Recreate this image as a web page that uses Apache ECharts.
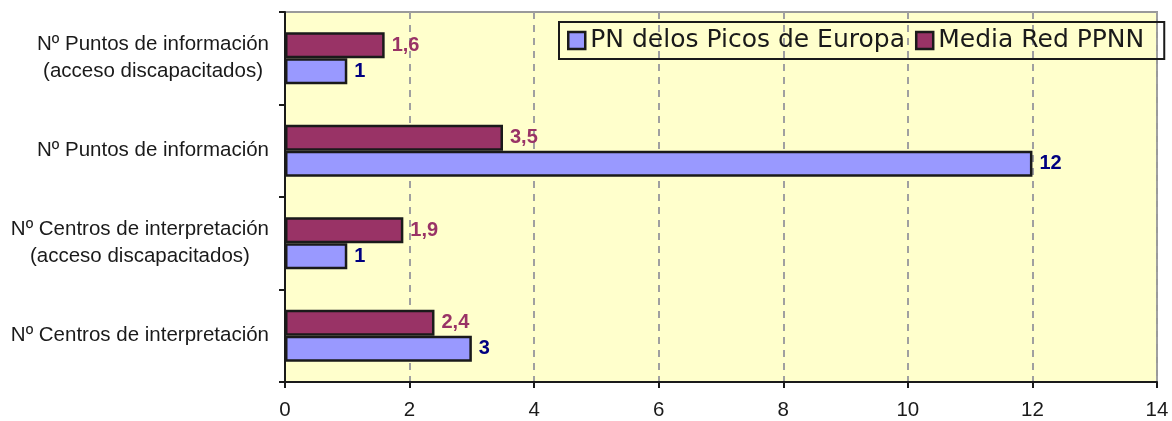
<!DOCTYPE html>
<html>
<head>
<meta charset="utf-8">
<script src="https://cdn.jsdelivr.net/npm/echarts@6/dist/echarts.min.js"></script>
<style>html,body{margin:0;padding:0;background:#fff}#c{width:1172px;height:421px}</style>
</head>
<body>
<div id="c"></div>
<script>
const categories = [
  'Nº Centros de interpretación',
  'Nº Centros de interpretación\n(acceso discapacitados)',
  'Nº Puntos de información',
  'Nº Puntos de información\n(acceso discapacitados)'
];
const seriesNames = ['PN delos Picos de Europa', 'Media Red PPNN'];
const pnValues = [3, 1, 12, 1];
const mediaValues = [2.4, 1.9, 3.5, 1.6];
const xTicks = [0, 2, 4, 6, 8, 10, 12, 14];

const FONT = 'Liberation Sans, Arial, sans-serif';
const chart = echarts.init(document.getElementById('c'), null, {renderer: 'canvas'});
const fmt = p => String(p.value).replace('.', ',');

chart.setOption({
  animation: false,
  backgroundColor: '#ffffff',
  grid: {
    left: 285, right: 15, top: 12, bottom: 39,
    show: true, backgroundColor: '#FFFFCC', borderColor: '#9a9a9a', borderWidth: 2
  },
  legend: {
    data: seriesNames,
    left: 559, top: 22,
    orient: 'horizontal',
    padding: [6, 20, 6, 8],
    itemGap: 10,
    itemWidth: 17, itemHeight: 17,
    icon: 'rect',
    borderColor: '#1a1a1a', borderWidth: 2,
    backgroundColor: 'transparent',
    itemStyle: {borderColor: '#1a1a1a', borderWidth: 2.5},
    textStyle: {fontFamily: 'DejaVu Sans', fontSize: 25, color: '#1a1a1a'}
  },
  xAxis: {
    type: 'value',
    min: xTicks[0], max: xTicks[xTicks.length - 1], interval: 2,
    axisLine: {show: true, lineStyle: {color: '#1a1a1a', width: 2}},
    axisTick: {show: true, length: 6, lineStyle: {color: '#1a1a1a', width: 2}},
    axisLabel: {fontFamily: FONT, fontSize: 20.5, color: '#1a1a1a', margin: 18},
    splitLine: {show: true, lineStyle: {color: '#a0a0a0', width: 2, type: [7, 6]}}
  },
  yAxis: {
    type: 'category',
    data: categories,
    axisLine: {show: true, lineStyle: {color: '#1a1a1a', width: 2}},
    axisTick: {show: true, length: 6, lineStyle: {color: '#1a1a1a', width: 2}},
    axisLabel: {
      fontFamily: FONT, fontSize: 20.5, color: '#1a1a1a', margin: 16,
      align: 'right',
      formatter: v => v.split('\n').map(s => '{c|' + s + '}').join('\n'),
      rich: {c: {align: 'center', fontFamily: FONT, fontSize: 20.5, color: '#1a1a1a', lineHeight: 27}}
    },
    splitLine: {show: false}
  },
  series: [
    {
      name: seriesNames[1], type: 'bar', data: mediaValues,
      barWidth: 26, barGap: '0%',
      itemStyle: {color: '#993366', borderColor: '#1a1a1a', borderWidth: 2.5},
      label: {show: true, position: 'right', distance: 7, formatter: fmt,
        fontFamily: FONT, fontSize: 20, fontWeight: 'bold', color: '#993366'}
    },
    {
      name: seriesNames[0], type: 'bar', data: pnValues,
      barWidth: 26, barGap: '0%',
      itemStyle: {color: '#9999FF', borderColor: '#1a1a1a', borderWidth: 2.5},
      label: {show: true, position: 'right', distance: 7, formatter: fmt,
        fontFamily: FONT, fontSize: 20, fontWeight: 'bold', color: '#000080'}
    }
  ]
});
</script>
</body>
</html>
